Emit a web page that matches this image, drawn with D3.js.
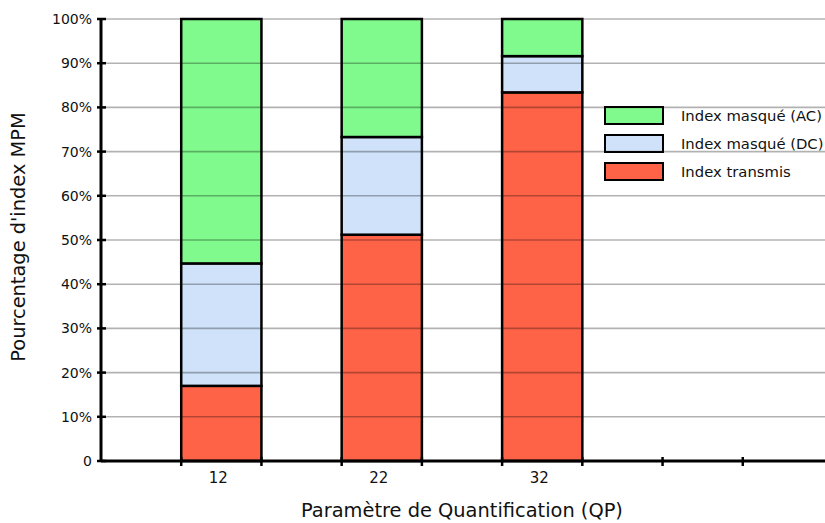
<!DOCTYPE html>
<html>
<head>
<meta charset="utf-8">
<script src="https://cdn.jsdelivr.net/npm/d3@7"></script>
<style>
  html, body { margin: 0; padding: 0; background: #fff; }
  svg { display: block; font-family: "DejaVu Sans", Verdana, sans-serif; }
</style>
</head>
<body>
<svg id="chart" width="825" height="523"></svg>
<script>
// QP values on the x axis
const categories = ["12", "22", "32"];
// share of MPM indices, in percent
const transmis = [17.0, 51.2, 83.4];
const masqueDC = [27.7, 22.1, 8.2];
const masqueAC = [55.3, 26.7, 8.4];
const seriesNames = ["Index transmis", "Index masqué (DC)", "Index masqué (AC)"];
const seriesColors = ["#FF6347", "#CFE2FA", "#80FA8C"];
const yTicks = [0, 10, 20, 30, 40, 50, 60, 70, 80, 90, 100];

const svg = d3.select("#chart");
const m = { left: 101, top: 19, bottom: 461, right: 823 };

// x is in slot units: bar i spans [2i+1, 2i+2], ticks every unit
const x = d3.scaleLinear().domain([0, 9]).range([m.left, m.right]);
const y = d3.scaleLinear().domain([0, 100]).range([m.bottom, m.top]);

const rows = categories.map((c, i) => ({ cat: c, i, vals: [transmis[i], masqueDC[i], masqueAC[i]] }));
const stack = d3.stack().keys([0, 1, 2]).value((d, k) => d.vals[k]);
const layers = stack(rows);

// bars
const g = svg.append("g");
layers.forEach((layer, k) => {
  g.selectAll(null).data(layer).enter().append("rect")
    .attr("x", d => x(2 * d.data.i + 1))
    .attr("width", d => x(2 * d.data.i + 2) - x(2 * d.data.i + 1))
    .attr("y", d => y(d[1]))
    .attr("height", d => y(d[0]) - y(d[1]))
    .attr("fill", seriesColors[k])
    .attr("stroke", "#000")
    .attr("stroke-width", 2.5);
});

// legend (drawn before the grid so grid lines cross it too)
const legend = svg.append("g").attr("transform", "translate(605,107)");
const order = [2, 1, 0];
order.forEach((k, r) => {
  const row = legend.append("g").attr("transform", `translate(0,${r * 28})`);
  row.append("rect").attr("width", 58).attr("height", 17)
    .attr("fill", seriesColors[k]).attr("stroke", "#000").attr("stroke-width", 2);
  row.append("text").attr("x", 76).attr("y", 14)
    .attr("font-size", 14.8).attr("fill", "#111").text(seriesNames[k]);
});

// horizontal grid lines, semi-transparent over the bars
svg.append("g").selectAll("line").data(yTicks.slice(1)).enter().append("line")
  .attr("x1", m.left).attr("x2", 825)
  .attr("y1", d => y(d)).attr("y2", d => y(d))
  .attr("stroke", "#000").attr("stroke-opacity", 0.3).attr("stroke-width", 1.6);

// y axis
const yAxis = svg.append("g").attr("transform", `translate(${m.left},0)`)
  .call(d3.axisLeft(y).tickValues(yTicks).tickSize(0).tickPadding(9)
    .tickFormat(d => d === 0 ? "0" : d + "%"));
yAxis.select(".domain").remove();
yAxis.selectAll("text").attr("font-size", 14).attr("fill", "#111")
  .attr("font-family", "DejaVu Sans, sans-serif");
svg.append("g").selectAll("line").data(yTicks).enter().append("line")
  .attr("x1", m.left - 4).attr("x2", m.left + 5)
  .attr("y1", d => y(d)).attr("y2", d => y(d))
  .attr("stroke", "#000").attr("stroke-width", 2.5);
svg.append("line").attr("x1", m.left).attr("x2", m.left)
  .attr("y1", y(100) - 1).attr("y2", y(0) + 1)
  .attr("stroke", "#000").attr("stroke-width", 3);

// x axis
svg.append("line").attr("x1", m.left).attr("x2", 825)
  .attr("y1", y(0)).attr("y2", y(0))
  .attr("stroke", "#000").attr("stroke-width", 3);
svg.append("g").selectAll("line").data(d3.range(1, 9)).enter().append("line")
  .attr("x1", d => x(d)).attr("x2", d => x(d))
  .attr("y1", y(0) - 4).attr("y2", y(0) + 5)
  .attr("stroke", "#000").attr("stroke-width", 2.5);
svg.append("g").selectAll("text").data(rows).enter().append("text")
  .attr("x", d => x(2 * d.i + 1.5) - 3)
  .attr("y", y(0) + 22)
  .attr("text-anchor", "middle").attr("font-size", 15).attr("fill", "#111")
  .text(d => d.cat);

// axis titles
svg.append("text").attr("x", 462).attr("y", 517)
  .attr("text-anchor", "middle").attr("font-size", 19.4).attr("fill", "#111")
  .text("Paramètre de Quantification (QP)");
svg.append("text").attr("transform", "translate(25,237) rotate(-90)")
  .attr("text-anchor", "middle").attr("font-size", 19.4).attr("fill", "#111")
  .text("Pourcentage d'index MPM");
</script>
</body>
</html>
